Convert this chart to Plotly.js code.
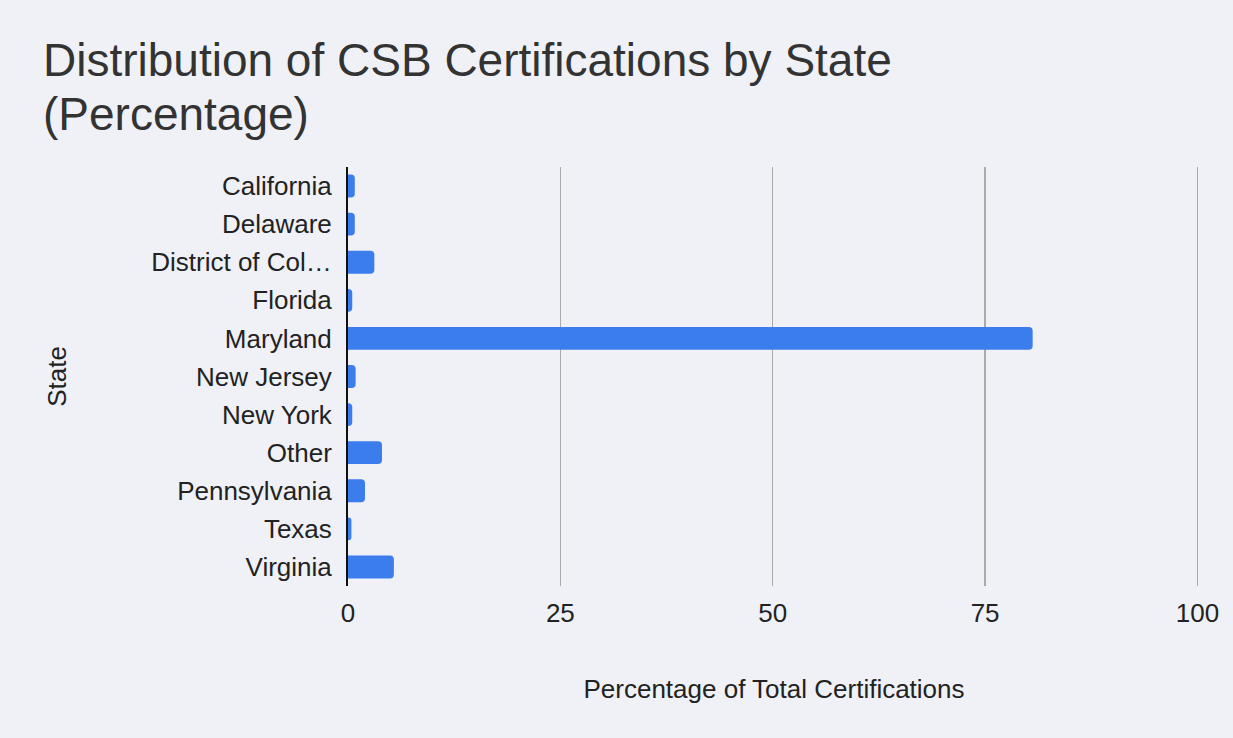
<!DOCTYPE html>
<html>
<head>
<meta charset="utf-8">
<script src="https://cdn.plot.ly/plotly-3.0.1.min.js"></script>
<style>html,body{margin:0;padding:0;background:#eff1f6;}#chart{width:1233px;height:738px;}</style>
</head>
<body>
<div id="chart"></div>
<script>
const states = ["California","Delaware","District of Col\u2026","Florida","Maryland","New Jersey","New York","Other","Pennsylvania","Texas","Virginia"];
const percentages = [0.8, 0.8, 3.1, 0.5, 80.6, 0.9, 0.5, 4.0, 2.0, 0.4, 5.4];
const xTicks = [0, 25, 50, 75, 100];
const titleLines = ["Distribution of CSB Certifications by State", "(Percentage)"];

const font = "'Liberation Sans', Arial, sans-serif";
Plotly.newPlot("chart", [{
  type: "bar",
  orientation: "h",
  y: states,
  x: percentages,
  marker: {color: "#3b7ded", cornerradius: 4},
  hoverinfo: "x+y"
}], {
  width: 1233, height: 738,
  paper_bgcolor: "#eff1f6",
  plot_bgcolor: "rgba(0,0,0,0)",
  font: {family: font, size: 26, color: "#222"},
  margin: {l: 348, r: 33, t: 167, b: 152},
  bargap: 0.4,
  annotations: titleLines.map((t, i) => ({
    text: t, xref: "paper", yref: "paper", x: -0.3604, xanchor: "left",
    y: [1.255, 1.127][i], yanchor: "middle", showarrow: false,
    font: {family: font, size: 46, color: "#333"}
  })),
  xaxis: {
    range: [0, 100.3], tickvals: xTicks, ticktext: xTicks.map(String),
    showgrid: true, gridcolor: "#aaaaaa", gridwidth: 1.3, zeroline: false,
    ticks: "outside", ticklen: 4, tickcolor: "rgba(0,0,0,0)",
    tickfont: {size: 26, color: "#222"},
    title: {text: "Percentage of Total Certifications", standoff: 52, font: {size: 26, color: "#222"}}
  },
  yaxis: {
    autorange: "reversed", showgrid: false, zeroline: false,
    showline: true, linecolor: "#111", linewidth: 2,
    ticks: "outside", ticklen: 9, tickcolor: "rgba(0,0,0,0)",
    tickfont: {size: 26, color: "#222"},
    title: {text: "State", standoff: 77, font: {size: 26, color: "#222"}}
  },
  showlegend: false
}, {displayModeBar: false, staticPlot: true});
</script>
</body>
</html>
